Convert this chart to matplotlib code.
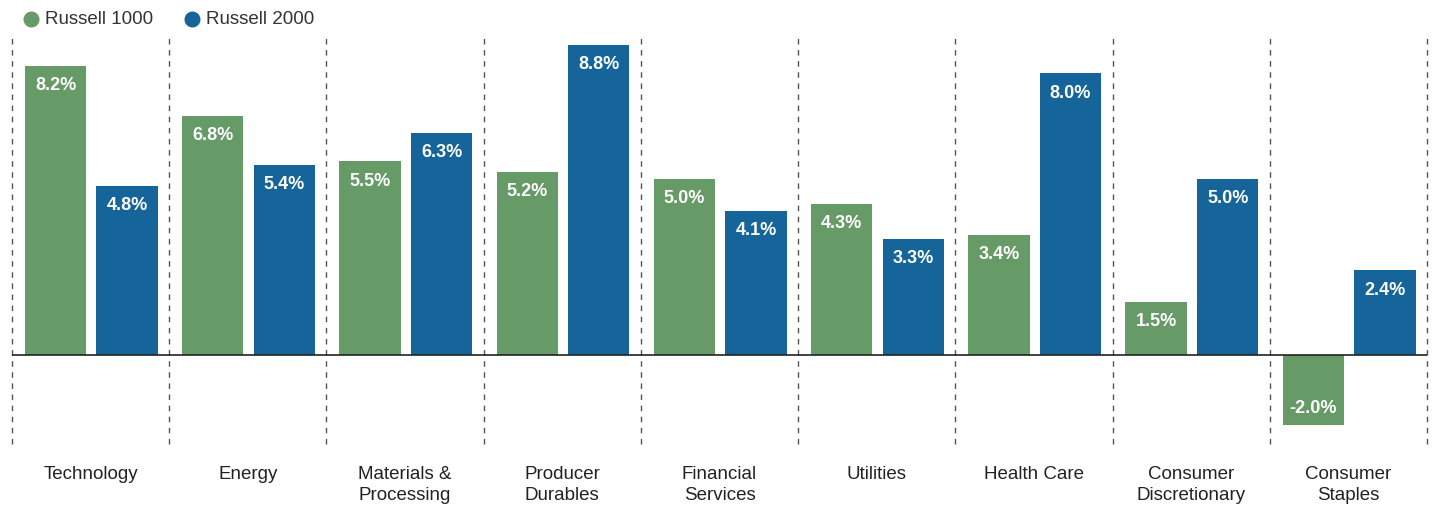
import matplotlib
matplotlib.use("Agg")
import matplotlib.pyplot as plt
from matplotlib.lines import Line2D
import numpy as np

plt.rcParams['font.family'] = ['Liberation Sans', 'DejaVu Sans']

# Data
categories = ["Technology", "Energy", "Materials &\nProcessing", "Producer\nDurables",
              "Financial\nServices", "Utilities", "Health Care",
              "Consumer\nDiscretionary", "Consumer\nStaples"]
russell_1000 = [8.2, 6.8, 5.5, 5.2, 5.0, 4.3, 3.4, 1.5, -2.0]
russell_2000 = [4.8, 5.4, 6.3, 8.8, 4.1, 3.3, 8.0, 5.0, 2.4]
series_names = ["Russell 1000", "Russell 2000"]

green = "#669A66"
blue = "#15659B"

W, H = 1432, 506
fig = plt.figure(figsize=(W / 100, H / 100), dpi=100)
ax = fig.add_axes([12 / W, 1 - 445 / H, 1415 / W, 407 / H])

n = len(categories)
x = np.arange(n)
w = 0.39
x1 = x + 0.277
x2 = x + 0.732

ax.bar(x1, russell_1000, width=w, color=green, zorder=2)
ax.bar(x2, russell_2000, width=w, color=blue, zorder=2)

ax.set_xlim(0, n)
ax.set_ylim(-2.53, 9.03)

# garis pemisah putus-putus
ax.vlines(np.arange(n + 1), -2.53, 9.03, colors="#555555", linestyles=(0, (4, 4)),
          linewidth=1.0, zorder=1, clip_on=False)
ax.axhline(0, color="#222222", linewidth=1.2, zorder=3)

# label nilai
for xs, vals in [(x1, russell_1000), (x2, russell_2000)]:
    for xi, v in zip(xs, vals):
        off = -13.5 if v >= 0 else 12.5
        ax.annotate(f"{v:.1f}%", (xi, v), xytext=(0, off), textcoords="offset points",
                    ha="center", va="center", color="white", fontsize=13,
                    fontweight="bold", zorder=4)

ax.set_xticks(x + 0.5)
ax.set_xticklabels(categories, fontsize=13.5, color="#222222", linespacing=1.33)
ax.tick_params(axis="x", length=0, pad=15)
ax.set_yticks([])
for s in ax.spines.values():
    s.set_visible(False)

# legenda manual
for name, col, cx in [(series_names[0], green, 31), (series_names[1], blue, 192)]:
    fig.add_artist(Line2D([cx / W], [1 - 20 / H], marker="o", markersize=10.5,
                          linestyle="", color=col, transform=fig.transFigure))
    fig.text((cx + 14) / W, 1 - 20 / H, name, va="center", ha="left",
             fontsize=13.5, color="#333333")

fig.savefig("out.png", dpi=100)
